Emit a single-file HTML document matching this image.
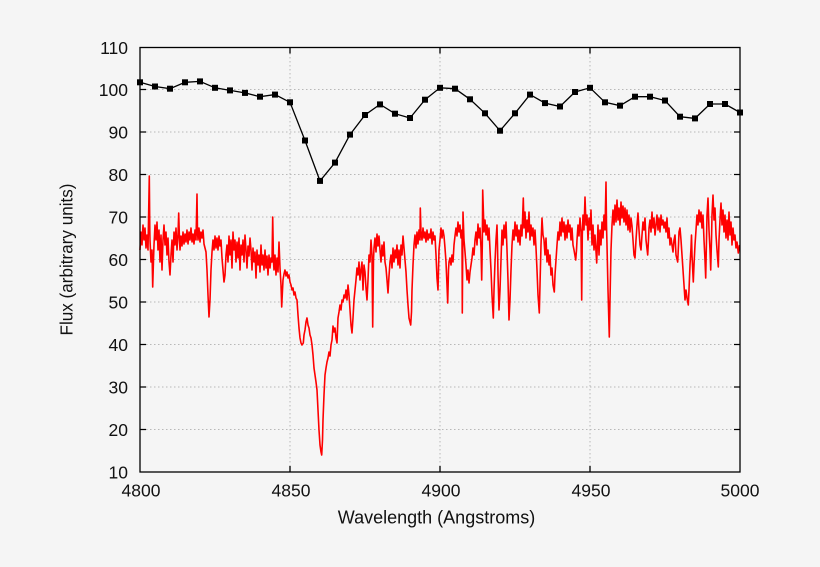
<!DOCTYPE html>
<html><head><meta charset="utf-8"><style>
html,body{margin:0;padding:0;background:#f5f5f5;}
svg{display:block;}
text{font-family:"Liberation Sans",Arial,sans-serif;fill:#111;}
</style></head><body>
<svg width="820" height="567" viewBox="0 0 820 567" xmlns="http://www.w3.org/2000/svg">
<rect width="820" height="567" fill="#f5f5f5"/>
<g stroke="#b8b8b8" stroke-width="1" stroke-dasharray="1.5,2.5" fill="none">
<line x1="146" y1="89.5" x2="734" y2="89.5"/>
<line x1="146" y1="132" x2="734" y2="132"/>
<line x1="146" y1="174.5" x2="734" y2="174.5"/>
<line x1="146" y1="217" x2="734" y2="217"/>
<line x1="146" y1="259.5" x2="734" y2="259.5"/>
<line x1="146" y1="302" x2="734" y2="302"/>
<line x1="146" y1="344.5" x2="734" y2="344.5"/>
<line x1="146" y1="387" x2="734" y2="387"/>
<line x1="146" y1="429.5" x2="734" y2="429.5"/>
<line x1="290" y1="53" x2="290" y2="466"/>
<line x1="440" y1="53" x2="440" y2="466"/>
<line x1="590" y1="53" x2="590" y2="466"/>
</g>
<polyline fill="none" stroke="#ff0000" stroke-width="1.6" stroke-linejoin="round" points="140,250 141,232 142,245 143,225 144,240 145,228 146,248 147,235 148,250 149.3,176 149.8,230 150,240 151,262 152,250 152.7,287 153.5,260 154,245 155,225 156,240 157,222 158,250 159,230 160,262 161,235 162,270 163,240 164,225 165,245 166,232 167,255 168,238 169,262 170,275 171,255 172,240 173,262 174,232 175,245 176,228 177,250 178,235 178.7,213 179.5,240 180,250 181,236 182,246 183,232 184,244 185,234 186,242 187,230 188,244 189,232 190,240 191,228 192,242 193,234 194,244 195,230 196,240 197,194 197.5,232 198,240 199,228 200,242 201,232 202,238 203,230 204,244 205,248 206,252 207,270 208,295 209,317 210,300 211,270 212,252 213,240 214,250 215,236 216,248 217,238 218,250 219,236 220,246 221,240 222,258 223,270 224,282 225,275 226,255 227,245 228,262 229,236 230,255 231,240 232,268 233,232 234,250 235,240 236,262 237,242 238,258 239,238 240,270 241,245 242,255 243,240 244,262 245,235 246,250 247,268 248,246 249,256 250,238 251,250 252,270 253,248 254,262 255,252 256,278 257,250 258,265 259,255 260,272 261,245 262,265 263,255 264,270 265,250 266,268 267,256 268,275 269,255 270,268 271,258 272,262 272.7,217 273.5,262 274,270 275,255 276,275 277,258 278,272 279,242 280,268 281,285 281.7,307 282.5,290 283,280 284,274 285,270 286,276 287,272 288,278 289,275 290,282 291,285 292,290 293,288 294,295 295,292 296,298 297,300 298,315 299,328 300,338 301,343 302,345 303.3,343 304,335 305,330 306,322 307,318 308,325 309,328 310,335 311,338 312,345 313,355 314,368 315,375 316,382 317,390 318,410 319,430 320,445 321,452 321.7,455 322.5,440 323,420 324,395 325,375 326,368 327,362 328,358 329,352 330,356 331,345 332,340 333,326 334,332 335,328 336,338 337,343 337.5,330 338,318 339,312 340,305 341,310 342,300 343,302 344,295 345,298 346,290 347,300 348,285 349,295 350,310 351,325 352,333 353,318 354,300 355,290 356,280 357,268 358,275 359,262 360,280 361,270 362,262 363,290 364,265 365,272 366,288 367,300 368,280 369,255 370,262 371,240 372,255 372.7,327 373.5,260 374,248 375,238 376,252 377,234 378,246 379,236 380,250 381,262 382,245 383,256 384,242 385,262 386,268 387,280 388,293 389,276 390,262 391,255 392,268 393,248 394,262 395,250 396,258 397,245 398,265 399,250 400,268 401,245 402,255 403,236 404,248 405,260 406,272 407,290 408,305 409,318 410,322 410.7,325 411.5,312 412,290 413,265 414,245 415,235 416,248 417,232 418,244 419,230 420,240 420.3,208 421,232 422,240 423,228 424,238 425,232 426,242 427,230 428,240 429,234 430,238 431,229 432,244 433,232 434,240 435,236 436,255 437,278 438,290 438.5,270 439,250 440,240 441,228 442,238 443,230 444,236 445,248 446,262 447,285 447.7,303 448.5,270 449,262 450,258 451,265 452,255 453,262 454,245 455,236 456,228 457,236 458,222 459,232 460,225 461,238 462,230 462.3,313 463,212 464,240 465,252 466,265 467,280 468,270 469,283 470,272 471,265 472,258 473,248 474,255 475,240 476,232 477,245 478,224 479,238 480,228 481,248 481.7,280 482.3,245 482.7,190 483.5,215 484,232 485,220 486,235 487,225 488,240 489,228 490,250 491,270 492,295 493.3,318 494,290 495,262 496,240 497,225 497.5,245 498,275 499,310 500,290 501,260 502,230 503,245 504,225 505,238 506,222 507,250 508,280 509,320 510,300 511,270 512,245 513,230 514,240 515,222 516,236 517,225 518,242 519,230 520,245 521,225 522,236 523.3,198 524,228 525,212 526,238 527,220 528,232 529,212 530,240 531,225 532,236 533,228 534,245 535,230 536,248 537,270 538,295 539.3,313 540,285 541,245 542,218 543,235 544,240 545,255 546,238 547,262 548,250 549,265 550,255 551,275 552,268 553,285 554.3,292 555,275 556,260 557,245 558,232 559,240 560,222 561,236 562,218 563,232 564,222 565,240 566,225 567,238 568,220 569,232 570,225 571,240 572,228 573,245 574,250 575.7,260 576.5,250 577,240 578,225 579,236 580,218 581,232 581.7,300 582.3,235 583,215 584,230 585,197 586,225 587,215 588,240 589,218 590,230 591,210 592,245 593,225 594,250 595,235 596.7,263 597.5,240 598,225 599,255 600,230 601,245 602,222 603,238 604,215 605,230 606,182 606.5,225 607,245 608,290 609.3,337 610,300 611,250 612,225 613,210 614,225 615,205 616,222 617,200 618,220 619,208 620,225 621,202 622,218 623,206 624,222 625,208 626,225 627,210 628,230 629,215 630,232 631,218 632,226 633,240 634,255 635,258 636,240 637,225 638,213 639,230 640,245 641,250 642,235 643,222 644,230 645,218 646,240 647.7,255 648.5,240 649,228 650,220 651,232 652,212 653,228 654,218 655,235 656,225 657,215 658,230 659,218 660,232 661,215 662,225 663,220 664,228 665,222 666,232 667,218 668,238 669,228 670,245 671,238 673,252 674,240 675,235 676,255 677.7,262 678.5,245 679,232 680,228 681,240 682,255 683,270 684,285 685,300 686,290 687,298 688.3,305 689,290 690,265 691,248 691.5,235 692,255 693.3,282 694,265 695,245 696,230 697,215 698,225 699,210 700,222 701,212 702,228 703,215 704,240 705,260 705.7,278 706.5,240 707,215 708,198 709,230 710,250 710.7,270 711.5,240 712,215 713,195 714,220 715,208 716,235 717,250 718.3,267 719,240 720,220 721,203 722,225 723,210 724,232 725,215 726,238 727,220 728,240 729,212 730,235 731,222 732,245 733,228 734,240 735,235 736,248 737,242 738.3,253 739.5,245"/>
<polyline fill="none" stroke="#000" stroke-width="1.3" points="140,82.3 155,86.5 170,88.7 185,82.3 200,81.4 215,87.8 230,90.4 245,92.9 260,96.7 275,94.6 290,102.3 305,140.5 320,180.9 335,162.6 350,134.6 365,115 380,104.4 395,113.7 410,118 425,99.7 440,87.8 455,88.7 470,99.3 485,113.3 500,130.7 515,113.3 530,94.6 545,103.1 560,106.5 575,92 590,87.8 605,102.3 620,105.65 635,96.7 650,96.7 665,100.55 680,116.7 695,118.4 710,104 725,104 740,112.5"/>
<g fill="#000">
<rect x="137" y="79.3" width="6" height="6"/><rect x="152" y="83.5" width="6" height="6"/><rect x="167" y="85.7" width="6" height="6"/><rect x="182" y="79.3" width="6" height="6"/><rect x="197" y="78.4" width="6" height="6"/><rect x="212" y="84.8" width="6" height="6"/><rect x="227" y="87.4" width="6" height="6"/><rect x="242" y="89.9" width="6" height="6"/><rect x="257" y="93.7" width="6" height="6"/><rect x="272" y="91.6" width="6" height="6"/><rect x="287" y="99.3" width="6" height="6"/><rect x="302" y="137.5" width="6" height="6"/><rect x="317" y="177.9" width="6" height="6"/><rect x="332" y="159.6" width="6" height="6"/><rect x="347" y="131.6" width="6" height="6"/><rect x="362" y="112" width="6" height="6"/><rect x="377" y="101.4" width="6" height="6"/><rect x="392" y="110.7" width="6" height="6"/><rect x="407" y="115" width="6" height="6"/><rect x="422" y="96.7" width="6" height="6"/><rect x="437" y="84.8" width="6" height="6"/><rect x="452" y="85.7" width="6" height="6"/><rect x="467" y="96.3" width="6" height="6"/><rect x="482" y="110.3" width="6" height="6"/><rect x="497" y="127.7" width="6" height="6"/><rect x="512" y="110.3" width="6" height="6"/><rect x="527" y="91.6" width="6" height="6"/><rect x="542" y="100.1" width="6" height="6"/><rect x="557" y="103.5" width="6" height="6"/><rect x="572" y="89" width="6" height="6"/><rect x="587" y="84.8" width="6" height="6"/><rect x="602" y="99.3" width="6" height="6"/><rect x="617" y="102.65" width="6" height="6"/><rect x="632" y="93.7" width="6" height="6"/><rect x="647" y="93.7" width="6" height="6"/><rect x="662" y="97.55" width="6" height="6"/><rect x="677" y="113.7" width="6" height="6"/><rect x="692" y="115.4" width="6" height="6"/><rect x="707" y="101" width="6" height="6"/><rect x="722" y="101" width="6" height="6"/><rect x="737" y="109.5" width="6" height="6"/>
</g>
<g stroke="#000" stroke-width="1.3" fill="none">
<rect x="140" y="47.5" width="600" height="424.5"/>
<path d="M140 89.5h6M140 132h6M140 174.5h6M140 217h6M140 259.5h6M140 302h6M140 344.5h6M140 387h6M140 429.5h6
M740 89.5h-6M740 132h-6M740 174.5h-6M740 217h-6M740 259.5h-6M740 302h-6M740 344.5h-6M740 387h-6M740 429.5h-6
M290 472v-6M440 472v-6M590 472v-6M290 47.5v6M440 47.5v6M590 47.5v6"/>
</g>
<g font-size="17.5" text-anchor="end">
<text x="128" y="54">110</text>
<text x="128" y="96">100</text>
<text x="128" y="138.5">90</text>
<text x="128" y="181">80</text>
<text x="128" y="223.5">70</text>
<text x="128" y="266">60</text>
<text x="128" y="308.5">50</text>
<text x="128" y="351">40</text>
<text x="128" y="393.5">30</text>
<text x="128" y="436">20</text>
<text x="128" y="478.5">10</text>
</g>
<g font-size="17.5" text-anchor="middle">
<text x="141" y="496.5">4800</text>
<text x="291" y="496.5">4850</text>
<text x="441" y="496.5">4900</text>
<text x="591" y="496.5">4950</text>
<text x="740" y="496.5">5000</text>
<text x="436.5" y="523.5" font-size="18">Wavelength (Angstroms)</text>
<text transform="translate(72.5,259.5) rotate(-90)" font-size="17.5" textLength="152" lengthAdjust="spacingAndGlyphs">Flux (arbitrary units)</text>
</g>
</svg>
</body></html>
